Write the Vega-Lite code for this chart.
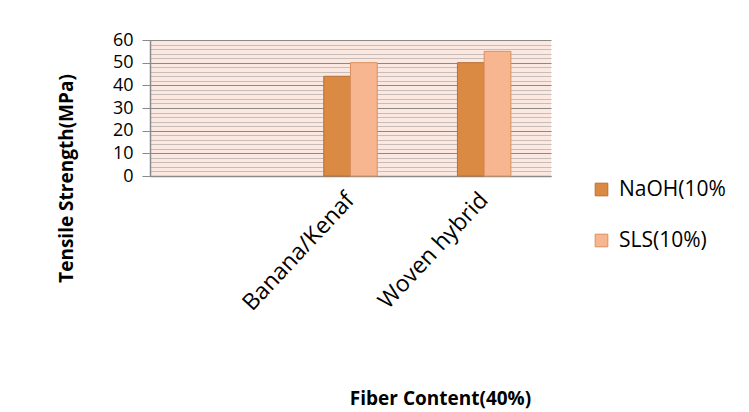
{
  "$schema": "https://vega.github.io/schema/vega-lite/v6.json",
  "autosize": "none",
  "width": 401,
  "height": 136,
  "padding": {"left": 150, "top": 40, "right": 198, "bottom": 236},
  "background": "white",
  "config": {
    "font": "Open Sans",
    "view": {"stroke": null, "fill": "#fbe9e1"}
  },
  "data": {
    "values": [
      {"fiber": "Banana/Kenaf", "treatment": "NaOH(10%", "strength": 44},
      {"fiber": "Banana/Kenaf", "treatment": "SLS(10%)", "strength": 50},
      {"fiber": "Woven hybrid", "treatment": "NaOH(10%", "strength": 50},
      {"fiber": "Woven hybrid", "treatment": "SLS(10%)", "strength": 55}
    ]
  },
  "mark": {"type": "bar", "strokeWidth": 1},
  "encoding": {
    "x": {
      "field": "fiber",
      "type": "nominal",
      "scale": {"domain": ["", "Banana/Kenaf", "Woven hybrid"], "paddingInner": 0.6, "paddingOuter": 0.3},
      "axis": {
        "title": "Fiber Content(40%)",
        "titleFontSize": 19,
        "titleFontWeight": "bold",
        "titleColor": "#000",
        "titleX": 290,
        "titleY": 222,
        "titleAnchor": "middle",
        "titleAlign": "center",
        "titleBaseline": "middle",
        "labelAngle": -47,
        "labelFontSize": 23,
        "labelColor": "#000",
        "labelPadding": 20,
        "labelLimit": 300,
        "ticks": false,
        "domainColor": "#8a8a8a",
        "domainWidth": 1.5,
        "grid": false
      }
    },
    "xOffset": {
      "field": "treatment",
      "type": "nominal",
      "sort": ["NaOH(10%", "SLS(10%)"]
    },
    "y": {
      "field": "strength",
      "type": "quantitative",
      "scale": {"domain": [0, 60], "nice": false},
      "axis": {
        "title": "Tensile Strength(MPa)",
        "titleFontSize": 19,
        "titleFontWeight": "bold",
        "titleColor": "#000",
        "titleAngle": -90,
        "titleX": -84,
        "titleY": 138,
        "titleAlign": "center",
        "titleBaseline": "middle",
        "values": [0, 2, 4, 6, 8, 10, 12, 14, 16, 18, 20, 22, 24, 26, 28, 30, 32, 34, 36, 38, 40, 42, 44, 46, 48, 50, 52, 54, 56, 58, 60],
        "labelExpr": "datum.value % 10 === 0 ? datum.label : ''",
        "labelFontSize": 18,
        "labelColor": "#000",
        "labelPadding": 9,
        "tickSize": 8,
        "tickColor": "#8a8a8a",
        "tickOpacity": {"condition": {"test": "datum.value % 10 === 0", "value": 1}, "value": 0},
        "domainColor": "#8a8a8a",
        "domainWidth": 1.5,
        "grid": true,
        "gridColor": {"condition": {"test": "datum.value % 10 === 0", "value": "#8c8886"}, "value": "#c7bcb8"},
        "gridWidth": 1.2,
        "gridOpacity": 1
      }
    },
    "color": {
      "field": "treatment",
      "type": "nominal",
      "sort": ["NaOH(10%", "SLS(10%)"],
      "scale": {"domain": ["NaOH(10%", "SLS(10%)"], "range": ["#db8a44", "#f8b690"]},
      "legend": {
        "title": null,
        "orient": "none",
        "legendX": 441,
        "legendY": 139,
        "symbolType": "square",
        "symbolSize": 160,
        "symbolStrokeWidth": 1,
        "labelFontSize": 21,
        "labelColor": "#000",
        "labelOffset": 7,
        "rowPadding": 29
      }
    },
    "stroke": {
      "field": "treatment",
      "type": "nominal",
      "scale": {"domain": ["NaOH(10%", "SLS(10%)"], "range": ["#b96f34", "#d9915f"]},
      "legend": null
    }
  }
}
